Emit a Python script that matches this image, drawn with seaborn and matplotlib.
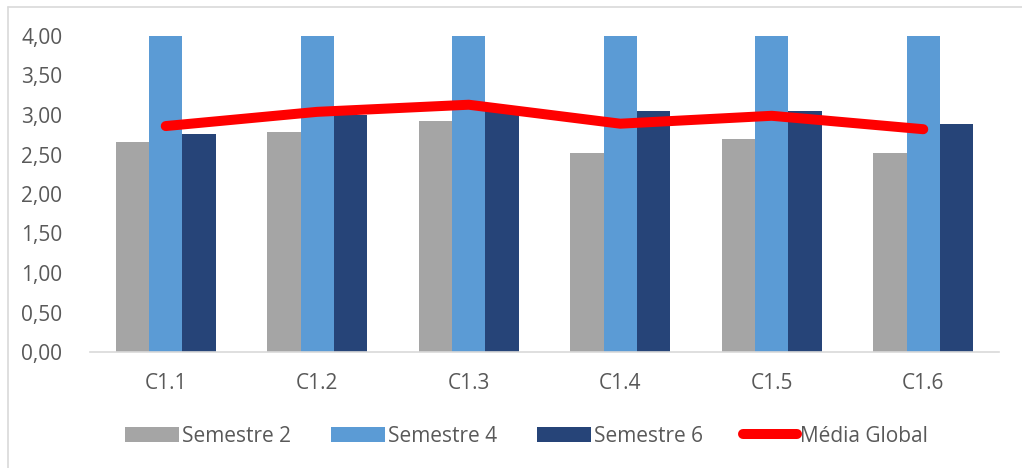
import numpy as np
import pandas as pd
import matplotlib
matplotlib.use("Agg")
import matplotlib.pyplot as plt
from matplotlib.patches import Patch
from matplotlib.lines import Line2D
import seaborn as sns

categories = ["C1.1", "C1.2", "C1.3", "C1.4", "C1.5", "C1.6"]
semestre2 = [2.66, 2.78, 2.92, 2.52, 2.70, 2.52]
semestre4 = [4.00, 4.00, 4.00, 4.00, 4.00, 4.00]
semestre6 = [2.76, 3.00, 3.12, 3.05, 3.05, 2.88]
media_global = [2.86, 3.04, 3.13, 2.89, 2.99, 2.82]
series_names = ["Semestre 2", "Semestre 4", "Semestre 6"]
line_name = "Média Global"
yticks = [0, 0.5, 1.0, 1.5, 2.0, 2.5, 3.0, 3.5, 4.0]

colors = ["#a5a5a5", "#5b9bd5", "#264478"]
red = "#ff0000"

sns.set_theme(style="white")
plt.rcParams["font.family"] = ["Open Sans", "Liberation Sans", "DejaVu Sans"]

df = pd.DataFrame({
    "cat": categories * 3,
    "val": semestre2 + semestre4 + semestre6,
    "serie": sum([[s] * len(categories) for s in series_names], []),
})

fig = plt.figure(figsize=(10.22, 4.68), dpi=100)
ax = fig.add_axes([90 / 1022, 1 - 352 / 468, 909 / 1022, (352 - 36) / 468])

sns.barplot(data=df, x="cat", y="val", hue="serie", palette=colors,
            width=0.66, gap=0, saturation=1, ax=ax, legend=False,
            edgecolor="none", linewidth=0)

xpos = np.arange(len(categories))
sns.lineplot(x=xpos, y=media_global, color=red, linewidth=7.2, ax=ax,
             solid_capstyle="round", solid_joinstyle="round", zorder=5)

ax.set_xlim(-0.5, 5.5)
ax.set_ylim(0, 4.0)
ax.set_yticks(yticks)
ax.set_yticklabels([f"{v:.2f}".replace(".", ",") for v in yticks])
ax.set_xlabel("")
ax.set_ylabel("")
for s in ["top", "right", "left"]:
    ax.spines[s].set_visible(False)
ax.spines["bottom"].set_color("#d9d9d9")
ax.spines["bottom"].set_linewidth(1.2)
ax.tick_params(axis="both", length=0, labelsize=15, colors="#595959")
ax.tick_params(axis="x", pad=15)
ax.tick_params(axis="y", pad=20)
ax.grid(False)

handles = [Patch(facecolor=c, edgecolor="none") for c in colors]
handles.append(Line2D([0], [0], color=red, linewidth=7.2, solid_capstyle="round"))
labels = series_names + [line_name]
fig.legend(handles, labels, loc="center", bbox_to_anchor=(0.515, 1 - 436 / 468),
           ncol=4, frameon=False, fontsize=15, handlelength=2.6, handleheight=0.7,
           columnspacing=1.9, handletextpad=0.15, labelcolor="#595959")

# light chart-area frame
fig.add_artist(Line2D([8 / 1022, 1.0], [1 - 7 / 468, 1 - 7 / 468], color="#d9d9d9", linewidth=1.2))
fig.add_artist(Line2D([8 / 1022, 8 / 1022], [0, 1 - 7 / 468], color="#d9d9d9", linewidth=1.2))

fig.savefig("out.png", dpi=100, facecolor="white")
